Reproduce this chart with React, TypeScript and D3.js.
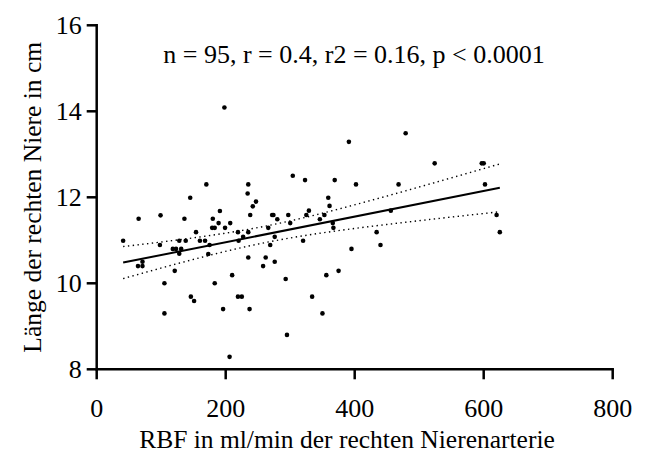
import React from "react";
import * as d3 from "d3";

// RBF (ml/min) of the right renal artery
const rbf: number[] = [
  198, 391, 479, 524, 597, 600, 602, 620, 625,
  304, 323, 369, 402, 468, 359, 361, 272, 274, 297, 329, 266, 280, 300, 325, 346, 353, 366, 367, 456, 276, 269, 320, 434, 440, 395, 262,
  258, 276, 210, 293,
  71, 64, 71, 121,
  105, 105, 183, 146, 151, 219, 225, 196, 237, 295, 206, 334, 350, 356, 375,
  170, 235, 234, 145, 247, 242, 191, 238, 65, 99, 136, 180, 189, 207, 179, 183, 199, 154, 219, 235, 227,
  41, 128, 138, 160, 168, 220, 98, 175, 118, 123, 131, 128, 173, 235,
];
// length of the right kidney (cm)
const length: number[] = [
  14.09, 13.29, 13.49, 12.79, 12.79, 12.79, 12.3, 11.59, 11.19,
  12.5, 12.4, 12.4, 12.3, 12.3, 11.99, 11.8, 11.59, 11.59, 11.59, 11.69, 11.29, 11.49, 11.4, 11.59, 11.49, 11.59, 11.4, 11.29, 11.69, 11.08, 10.89, 10.99, 11.19, 10.89, 10.8, 10.6,
  10.4, 10.5, 10.19, 10.1,
  10.5, 10.4, 10.4, 10.29,
  10.0, 9.3, 10.0, 9.69, 9.59, 9.69, 9.69, 9.4, 9.4, 8.8, 8.29, 9.69, 9.3, 10.19, 10.29,
  12.3, 12.3, 12.09, 11.99, 11.9, 11.79, 11.68, 11.59, 11.5, 11.58, 11.5, 11.5, 11.4, 11.4, 11.29, 11.29, 11.29, 11.19, 11.19, 11.19, 11.08,
  10.99, 10.99, 10.99, 10.99, 10.99, 10.99, 10.89, 10.89, 10.8, 10.8, 10.8, 10.69, 10.68, 10.6,
];

const xTicks: number[] = [0, 200, 400, 600, 800];
const yTicks: number[] = [8, 10, 12, 14, 16];
const statsLabel = "n = 95, r = 0.4, r2 = 0.16, p < 0.0001";
const xTitle = "RBF in ml/min der rechten Nierenarterie";
const yTitle = "Länge der rechten Niere in cm";
const tCrit = 1.986; // t(0.975, df = 93)

const W = 645;
const H = 454;
const FONT = "'Liberation Serif', 'Times New Roman', serif";

export default function App() {
  const x = d3.scaleLinear().domain([0, 800]).range([96.7, 612.7]);
  const y = d3.scaleLinear().domain([8, 16]).range([369.3, 25.3]);

  // least-squares fit & 95% confidence band
  const n = rbf.length;
  const mx = d3.mean(rbf)!;
  const my = d3.mean(length)!;
  let sxx = 0, sxy = 0;
  for (let i = 0; i < n; i++) {
    sxx += (rbf[i] - mx) ** 2;
    sxy += (rbf[i] - mx) * (length[i] - my);
  }
  const b = sxy / sxx;
  const a = my - b * mx;
  let sse = 0;
  for (let i = 0; i < n; i++) sse += (length[i] - (a + b * rbf[i])) ** 2;
  const s = Math.sqrt(sse / (n - 2));
  const x0 = d3.min(rbf)!;
  const x1 = d3.max(rbf)!;
  const xs = d3.range(0, 61).map((k) => x0 + ((x1 - x0) * k) / 60);
  const half = (v: number) => tCrit * s * Math.sqrt(1 / n + (v - mx) ** 2 / sxx);
  const line = d3
    .line<[number, number]>()
    .x((d) => x(d[0]))
    .y((d) => y(d[1]));
  const fitPts: [number, number][] = [
    [x0, a + b * x0],
    [x1, a + b * x1],
  ];
  const upper: [number, number][] = xs.map((v) => [v, a + b * v + half(v)]);
  const lower: [number, number][] = xs.map((v) => [v, a + b * v - half(v)]);

  const axisW = 2.5;
  const tickLen = 10;

  return (
    <svg
      width={W}
      height={H}
      style={{ position: "absolute", left: 0, top: 0, background: "#fff" }}
      fontFamily={FONT}
    >
      <rect width={W} height={H} fill="#fff" />
      {/* confidence band */}
      <path d={line(upper)!} fill="none" stroke="#000" strokeWidth={1.4} strokeDasharray="1.4 3.4" />
      <path d={line(lower)!} fill="none" stroke="#000" strokeWidth={1.4} strokeDasharray="1.4 3.4" />
      {/* regression line */}
      <path d={line(fitPts)!} fill="none" stroke="#000" strokeWidth={2} />
      {/* points */}
      {rbf.map((v, i) => (
        <circle key={i} cx={x(v)} cy={y(length[i])} r={2.3} fill="#000" />
      ))}
      {/* axes */}
      <line x1={x(0)} x2={x(800) + axisW / 2} y1={y(8)} y2={y(8)} stroke="#000" strokeWidth={axisW} />
      <line x1={x(0)} x2={x(0)} y1={y(16) - axisW / 2} y2={y(8) + axisW / 2} stroke="#000" strokeWidth={axisW} />
      {xTicks.map((t) => (
        <g key={"x" + t}>
          <line x1={x(t)} x2={x(t)} y1={y(8)} y2={y(8) + tickLen} stroke="#000" strokeWidth={axisW} />
          <text x={x(t)} y={417} textAnchor="middle" fontSize={26}>
            {t}
          </text>
        </g>
      ))}
      {yTicks.map((t) => (
        <g key={"y" + t}>
          <line x1={x(0) - tickLen} x2={x(0)} y1={y(t)} y2={y(t)} stroke="#000" strokeWidth={axisW} />
          <text x={x(0) - tickLen - 5} y={y(t) + 9} textAnchor="end" fontSize={26}>
            {t}
          </text>
        </g>
      ))}
      <text x={354} y={63} textAnchor="middle" fontSize={26}>
        {statsLabel}
      </text>
      <text x={347} y={448} textAnchor="middle" fontSize={25.5}>
        {xTitle}
      </text>
      <text transform={`translate(41,${(y(8) + y(16)) / 2}) rotate(-90)`} textAnchor="middle" fontSize={25.5}>
        {yTitle}
      </text>
    </svg>
  );
}
